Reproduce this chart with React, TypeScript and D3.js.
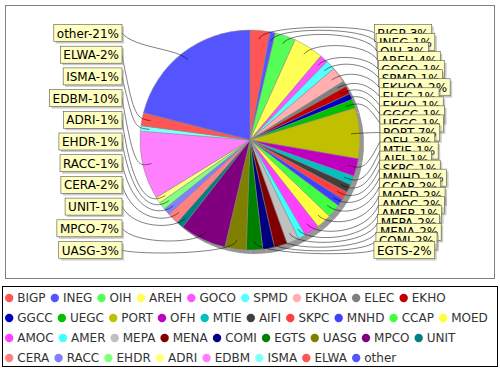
import React, { useRef, useEffect } from 'react';
import * as d3 from 'd3';

// slices in drawing order (clockwise from 12 o'clock)
const categories = [
  'BIGP', 'INEG', 'OIH', 'AREH', 'GOCO', 'SPMD', 'EKHOA', 'ELEC', 'EKHO',
  'GGCC', 'UEGC', 'PORT', 'OFH', 'MTIE', 'AIFI', 'SKPC', 'MNHD', 'CCAP', 'MOED',
  'AMOC', 'AMER', 'MEPA', 'MENA', 'COMI', 'EGTS', 'UASG', 'MPCO', 'UNIT',
  'CERA', 'RACC', 'EHDR', 'ADRI', 'EDBM', 'ISMA', 'ELWA', 'other'
];
const values = [
  2.9, 0.8, 3.0, 4.4, 1.2, 1.4, 2.3, 0.8, 1.2,
  0.9, 1.3, 7.4, 2.6, 1.3, 1.2, 1.2, 1.1, 2.0, 2.2,
  2.2, 1.1, 1.8, 1.9, 1.7, 2.4, 3.1, 6.8, 1.0,
  1.7, 1.0, 1.1, 0.9, 10.0, 0.8, 1.9, 20.9
];
// default series paint sequence
const palette = [
  '#FF5555', '#5555FF', '#55FF55', '#FFFF55', '#FF55FF', '#55FFFF', '#FFAFAF', '#808080',
  '#C00000', '#0000C0', '#00C000', '#C0C000', '#C000C0', '#00C0C0', '#404040', '#FF4040',
  '#4040FF', '#40FF40', '#FFFF40', '#FF40FF', '#40FFFF', '#C0C0C0', '#800000', '#000080',
  '#008000', '#808000', '#800080', '#008080', '#FF8080', '#8080FF', '#80FF80', '#FFFF80',
  '#FF80FF', '#80FFFF'
];

export default function App() {
  const ref = useRef<SVGSVGElement>(null);
  const width = 500;
  const height = 370;

  useEffect(() => {
    const svg = d3.select(ref.current);
    svg.selectAll('*').remove();
    const font = '"DejaVu Sans", sans-serif';

    const cx = 250, cy = 140, R = 110;
    const linkR = 116;
    const total = d3.sum(values);
    const data = categories.map((c, i) => ({ name: c, value: values[i], color: palette[i % palette.length] }));

    // plot outline
    svg.append('rect')
      .attr('x', 5.5).attr('y', 5.5).attr('width', 489).attr('height', 273)
      .attr('fill', '#fff').attr('stroke', '#808080').attr('stroke-width', 1);

    const pie = d3.pie<any>().value(d => d.value).sort(null);
    const arcs = pie(data);
    const arc = d3.arc<any>().innerRadius(0).outerRadius(R);

    // shadow
    svg.append('g').attr('transform', `translate(${cx + 4},${cy + 4})`)
      .selectAll('path').data(arcs).join('path')
      .attr('d', arc).attr('fill', '#969696');

    svg.append('g').attr('transform', `translate(${cx},${cy})`)
      .selectAll('path').data(arcs).join('path')
      .attr('d', arc)
      .attr('fill', d => d.data.color)
      .attr('stroke', '#8a8a8a').attr('stroke-width', 0.5);

    // labels
    const mid = (a: any) => (a.startAngle + a.endAngle) / 2;
    const right = arcs.filter(a => mid(a) < Math.PI);
    const left = arcs.filter(a => mid(a) >= Math.PI).reverse();
    const top = 33, bottom = 250;
    const boxH = 17;

    const labelG = svg.append('g');
    const drawLabel = (a: any, y: number, side: string) => {
      const t = mid(a);
      const linkX = cx + Math.sin(t) * R * 0.92;
      const linkY = cy - Math.cos(t) * R * 0.92;
      const elbowX = cx + Math.sin(t) * linkR;
      const elbowY = cy - Math.cos(t) * linkR;
      let targetX: number;
      if (side === 'right') {
        const dy = (y - 141) / 110;
        targetX = 373 + 7 * Math.sqrt(Math.max(0, 1 - dy * dy));
      } else {
        targetX = 122;
      }
      const anchorX = side === 'right' ? cx + linkR : cx - linkR;
      const p = d3.path();
      p.moveTo(targetX, y);
      p.bezierCurveTo(anchorX, elbowY, elbowX, elbowY, linkX, linkY);
      labelG.append('path').attr('d', p.toString())
        .attr('fill', 'none').attr('stroke', '#000').attr('stroke-width', 0.5);

      const txt = `${a.data.name}-${Math.round(a.data.value / total * 100)}%`;
      const g = labelG.append('g');
      const shadow = g.append('rect');
      const box = g.append('rect');
      const text = g.append('text')
        .attr('font-family', font).attr('font-size', 12).attr('fill', '#000')
        .text(txt);
      const tw = (text.node() as SVGTextElement).getComputedTextLength();
      const bw = tw + 6;
      const bx = side === 'right' ? targetX : targetX - bw;
      shadow.attr('x', bx + 2).attr('y', y - boxH / 2 + 2).attr('width', bw).attr('height', boxH)
        .attr('fill', 'rgba(151,151,151,0.5)');
      box.attr('x', bx).attr('y', y - boxH / 2).attr('width', bw).attr('height', boxH)
        .attr('fill', '#FFFFC0').attr('stroke', '#555').attr('stroke-width', 0.6);
      text.attr('x', bx + 3).attr('y', y + 4.5);
    };
    right.forEach((a, i) => drawLabel(a, top + i * (bottom - top) / (right.length - 1), 'right'));
    left.forEach((a, i) => drawLabel(a, top + i * (bottom - top) / (left.length - 1), 'left'));

    // legend
    svg.append('rect')
      .attr('x', 2.5).attr('y', 286.5).attr('width', 495).attr('height', 80)
      .attr('fill', '#fff').attr('stroke', '#000').attr('stroke-width', 1);
    const lg = svg.append('g');
    let x = 5, row = 0;
    data.forEach(d => {
      const t = lg.append('text')
        .attr('font-family', font).attr('font-size', 12).attr('fill', '#333')
        .text(d.name);
      const tw = (t.node() as SVGTextElement).getComputedTextLength();
      if (x + 12.3 + tw > 494) { x = 5; row += 1; }
      const ry = 298 + row * 20;
      t.attr('x', x + 12.3).attr('y', ry + 4.3);
      lg.append('circle').attr('cx', x + 4.2).attr('cy', ry).attr('r', 4.2).attr('fill', d.color);
      x += 12.3 + tw + 5;
    });
  }, []);

  return (
    <svg ref={ref} width={width} height={height}
      style={{ position: 'absolute', left: 0, top: 0, background: '#fff' }} />
  );
}
